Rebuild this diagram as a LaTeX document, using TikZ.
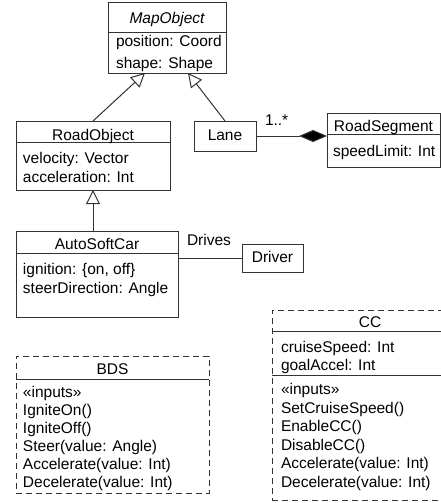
\documentclass[tikz,border=0pt]{standalone}
\usepackage{fontspec}
\setmainfont{Liberation Sans}
\usetikzlibrary{arrows.meta}
\newcommand{\umlfont}{\fontsize{15.5}{18}\selectfont}
\tikzset{
  umlbox/.style={draw=black!80, line width=1pt, rectangle, inner sep=0pt, outer sep=0pt, anchor=north west},
  dbox/.style={umlbox, dash pattern=on 6pt off 4pt},
  divline/.style={draw=black!80, line width=1pt},
  txt/.style={inner sep=0pt, outer sep=0pt, anchor=base west, font=\umlfont},
  ctxt/.style={txt, anchor=base},
  gen/.style={draw=black!80, line width=1pt, -{Triangle[open, length=14pt, width=14pt]}},
  comp/.style={draw=black!80, line width=1pt, -{Diamond[length=28pt, width=12pt, fill=black]}},
  assoc/.style={draw=black!80, line width=1pt}
}
\begin{document}
\begin{tikzpicture}[x=1pt, y=-1pt]
\useasboundingbox (0,0) rectangle (441,503);
\clip (0,0) rectangle (441,503);
% MapObject
\node[umlbox, minimum width=118pt, minimum height=70pt] (map) at (108,3) {};
\draw[divline] ([yshift=-30pt]map.north west) -- ([yshift=-30pt]map.north east);
\node[ctxt, font=\umlfont\itshape] (mapt) at (167,24) {MapObject};
\node[txt] (mapa1) at (116,47) {position: Coord};
\node[txt] (mapa2) at (116,68) {shape: Shape};
% RoadObject
\node[umlbox, minimum width=154pt, minimum height=69pt] (robj) at (16,121) {};
\draw[divline] ([yshift=-21pt]robj.north west) -- ([yshift=-21pt]robj.north east);
\node[ctxt] (robjt) at (93,140) {RoadObject};
\node[txt] (robja1) at (23,163) {velocity: Vector};
\node[txt] (robja2) at (23,182.5) {acceleration: Int};
% Lane
\node[umlbox, minimum width=62pt, minimum height=30pt] (lane) at (194,121) {};
\node[ctxt] (lanet) at (225,140.5) {Lane};
% RoadSegment
\node[umlbox, minimum width=113pt, minimum height=54pt] (rseg) at (327,113) {};
\draw[divline] ([yshift=-21pt]rseg.north west) -- ([yshift=-21pt]rseg.north east);
\node[ctxt] (rsegt) at (383.5,131) {RoadSegment};
\node[txt] (rsega1) at (333,156.5) {speedLimit: Int};
% AutoSoftCar
\node[umlbox, minimum width=162pt, minimum height=86pt] (car) at (16,231) {};
\draw[divline] ([yshift=-22pt]car.north west) -- ([yshift=-22pt]car.north east);
\node[ctxt] (cart) at (97,249) {AutoSoftCar};
\node[txt] (cara1) at (23,274) {ignition: \{on, off\}};
\node[txt] (cara2) at (23,293) {steerDirection: Angle};
% Driver
\node[umlbox, minimum width=61pt, minimum height=28pt] (drv) at (242,244) {};
\node[ctxt] (drvt) at (272.5,262.5) {Driver};
% BDS
\node[dbox, minimum width=193pt, minimum height=137pt] (bds) at (16,356) {};
\draw[divline] ([yshift=-23pt]bds.north west) -- ([yshift=-23pt]bds.north east);
\node[ctxt] (bdst) at (112.5,374.5) {BDS};
\node[txt] (bds1) at (23,397) {«inputs»};
\node[txt] (bds2) at (23,415) {IgniteOn()};
\node[txt] (bds3) at (23,433) {IgniteOff()};
\node[txt] (bds4) at (23,451) {Steer(value: Angle)};
\node[txt] (bds5) at (23,469) {Accelerate(value: Int)};
\node[txt] (bds6) at (23,487) {Decelerate(value: Int)};
% CC
\node[dbox, minimum width=196pt, minimum height=190pt] (cc) at (272,310) {};
\draw[divline] ([yshift=-21pt]cc.north west) -- ([yshift=-21pt]cc.north east);
\draw[divline] ([yshift=-65pt]cc.north west) -- ([yshift=-65pt]cc.north east);
\node[ctxt] (cct) at (370,327.5) {CC};
\node[txt] (cc1) at (281,352) {cruiseSpeed: Int};
\node[txt] (cc2) at (281,370.5) {goalAccel: Int};
\node[txt] (cc3) at (281,394) {«inputs»};
\node[txt] (cc4) at (281,413) {SetCruiseSpeed()};
\node[txt] (cc5) at (281,431.5) {EnableCC()};
\node[txt] (cc6) at (281,450) {DisableCC()};
\node[txt] (cc7) at (281,468.5) {Accelerate(value: Int)};
\node[txt] (cc8) at (281,487) {Decelerate(value: Int)};
% connectors
\draw[gen] (robj.north) -- ([xshift=37pt]map.south west);
\draw[gen] (lane.north) -- ([xshift=80pt]map.south west);
\draw[gen] (robj.south |- car.north) -- (robj.south);
\draw[comp] (lane.east) -- (lane.east -| rseg.west);
\node[txt] (mult) at (265,125) {1..*};
\draw[assoc] (drv.west) -- (drv.west -| car.east);
\node[txt] (drives) at (187,245.5) {Drives};
\end{tikzpicture}
\end{document}
